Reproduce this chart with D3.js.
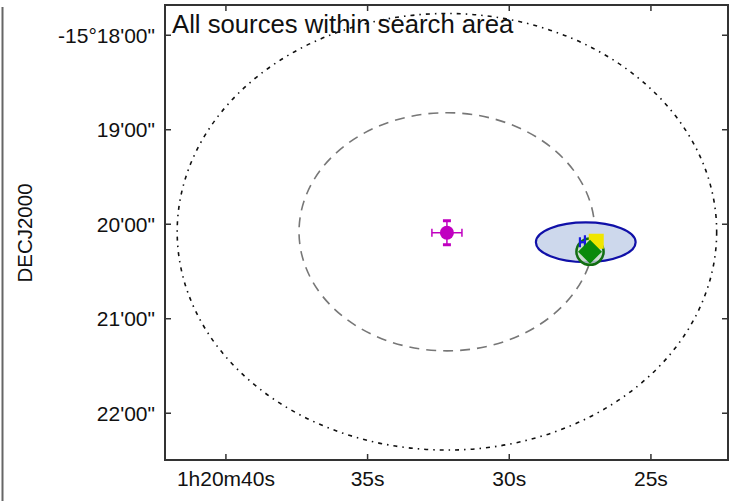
<!DOCTYPE html>
<html><head><meta charset="utf-8">
<script src="https://cdn.jsdelivr.net/npm/d3@7"></script>
<style>body{margin:0;background:#fff}svg{display:block}</style>
</head><body><svg id="c" width="730" height="501"></svg>
<script>
// RA in seconds of 1h20m, Dec in arcmin beyond -15°
const xTicks = [40, 35, 30, 25];
const xTickLabels = ["1h20m40s", "35s", "30s", "25s"];
const yTicks = [18, 19, 20, 21, 22];
const yTickLabels = ["-15°18'00\"", "19'00\"", "20'00\"", "21'00\"", "22'00\""];
const searchCenter = [32.20, 20.08];
const outerRadius = [9.52, 2.31];   // dash-dot search area
const innerRadius = [5.22, 1.26];   // dashed
const magentaPoint = [32.20, 20.09];
const magentaErr = [0.53, 0.127];
const blueEllipse = [27.30, 20.19, 1.76, 0.21];
const greenCircle = [27.15, 20.29, 0.48, 0.14];
const greenDiamond = [27.15, 20.29];
const yellowSquare = [26.93, 20.18];
const blueMark = [27.40, 20.18];
const title = "All sources within search area";
const yLabel = "DECJ2000";

const svg = d3.select("#c");
const L = 165, R = 728, T = 5, B = 460;
const x = d3.scaleLinear().domain([42.15, 22.28]).range([L, R]);
const y = d3.scaleLinear().domain([17.68, 22.495]).range([T, B]);
const font = "Liberation Sans, Arial, sans-serif";

// left page border
svg.append("line").attr("x1", 2.5).attr("x2", 2.5).attr("y1", 7).attr("y2", 501)
  .attr("stroke", "#666").attr("stroke-width", 2);

const clip = svg.append("clipPath").attr("id", "cp").append("rect")
  .attr("x", L).attr("y", T).attr("width", R - L).attr("height", B - T);
const g = svg.append("g").attr("clip-path", "url(#cp)");

function ell(c, r) {
  return g.append("ellipse").attr("cx", x(c[0])).attr("cy", y(c[1]))
    .attr("rx", Math.abs(x(c[0] + r[0]) - x(c[0]))).attr("ry", Math.abs(y(c[1] + r[1]) - y(c[1])));
}
ell(searchCenter, outerRadius).attr("fill", "none").attr("stroke", "#111")
  .attr("stroke-width", 1.6).attr("stroke-dasharray", "4,5,1.5,5");
ell(searchCenter, innerRadius).attr("fill", "none").attr("stroke", "#777")
  .attr("stroke-width", 1.6).attr("stroke-dasharray", "10,7");

// magenta point with errors
const mx = x(magentaPoint[0]), my = y(magentaPoint[1]);
const ex1 = x(magentaPoint[0] + magentaErr[0]), ex2 = x(magentaPoint[0] - magentaErr[0]);
const ey1 = y(magentaPoint[1] - magentaErr[1]), ey2 = y(magentaPoint[1] + magentaErr[1]);
const mg = g.append("g").attr("stroke", "#c000c0").attr("stroke-width", 1.5);
mg.append("line").attr("x1", ex1).attr("x2", ex2).attr("y1", my).attr("y2", my);
mg.append("line").attr("x1", mx).attr("x2", mx).attr("y1", ey1).attr("y2", ey2);
mg.append("line").attr("x1", ex1).attr("x2", ex1).attr("y1", my - 4).attr("y2", my + 4);
mg.append("line").attr("x1", ex2).attr("x2", ex2).attr("y1", my - 4).attr("y2", my + 4);
mg.append("line").attr("x1", mx - 4).attr("x2", mx + 4).attr("y1", ey1).attr("y2", ey1).attr("stroke-width", 3);
mg.append("line").attr("x1", mx - 4).attr("x2", mx + 4).attr("y1", ey2).attr("y2", ey2).attr("stroke-width", 3);
g.append("circle").attr("cx", mx).attr("cy", my).attr("r", 7).attr("fill", "#c000c0");

// blue ellipse
ell([blueEllipse[0], blueEllipse[1]], [blueEllipse[2], blueEllipse[3]])
  .attr("fill", "#cdd8ec").attr("stroke", "#1010a8").attr("stroke-width", 2.2);

// green circle
ell([greenCircle[0], greenCircle[1]], [greenCircle[2], greenCircle[3]])
  .attr("fill", "#c8dcc8").attr("fill-opacity", 0.8).attr("stroke", "#126e12").attr("stroke-width", 2.5);

// yellow square
const ys = 15;
g.append("rect").attr("x", x(yellowSquare[0]) - ys / 2).attr("y", y(yellowSquare[1]) - ys / 2)
  .attr("width", ys).attr("height", ys).attr("fill", "#f0e600");

// blue mark
const bx = x(blueMark[0]), by = y(blueMark[1]);
const bg = g.append("g").attr("stroke", "#1a1ae0").attr("stroke-width", 2.2);
bg.append("line").attr("x1", bx - 3).attr("x2", bx - 3).attr("y1", by - 4).attr("y2", by + 6);
bg.append("line").attr("x1", bx + 2).attr("x2", bx + 2).attr("y1", by - 6).attr("y2", by + 6);
bg.append("line").attr("x1", bx - 3).attr("x2", bx + 2).attr("y1", by + 1).attr("y2", by + 1);

// green diamond
const dx = x(greenDiamond[0]), dy = y(greenDiamond[1]), dsz = 12;
g.append("path").attr("d", `M${dx},${dy - dsz}L${dx + dsz},${dy}L${dx},${dy + dsz}L${dx - dsz},${dy}Z`)
  .attr("fill", "#0a8a0a");

// frame and ticks
const ax = svg.append("g").attr("stroke", "#333").attr("stroke-width", 1.5);
xTicks.forEach(t => {
  ax.append("line").attr("x1", x(t)).attr("x2", x(t)).attr("y1", B).attr("y2", B - 6);
  ax.append("line").attr("x1", x(t)).attr("x2", x(t)).attr("y1", T).attr("y2", T + 6);
});
yTicks.forEach(t => {
  ax.append("line").attr("x1", L).attr("x2", L + 6).attr("y1", y(t)).attr("y2", y(t));
  ax.append("line").attr("x1", R).attr("x2", R - 6).attr("y1", y(t)).attr("y2", y(t));
});
svg.append("rect").attr("x", L).attr("y", T).attr("width", R - L).attr("height", B - T)
  .attr("fill", "none").attr("stroke", "#333").attr("stroke-width", 2);

xTicks.forEach((t, i) => svg.append("text").attr("x", x(t)).attr("y", 486)
  .attr("text-anchor", "middle").attr("font-family", font).attr("font-size", 21).attr("fill", "#111")
  .text(xTickLabels[i]));
yTicks.forEach((t, i) => svg.append("text").attr("x", 155).attr("y", y(t) + 7.5)
  .attr("text-anchor", "end").attr("font-family", font).attr("font-size", 21).attr("fill", "#111")
  .text(yTickLabels[i]));

svg.append("text").attr("transform", "translate(32,233) rotate(-90)").attr("text-anchor", "middle")
  .attr("font-family", font).attr("font-size", 20.5).attr("fill", "#111").text(yLabel);

svg.append("text").attr("x", 172).attr("y", 33).attr("font-family", font).attr("font-size", 25.7)
  .attr("fill", "#111").text(title);
</script></body></html>
